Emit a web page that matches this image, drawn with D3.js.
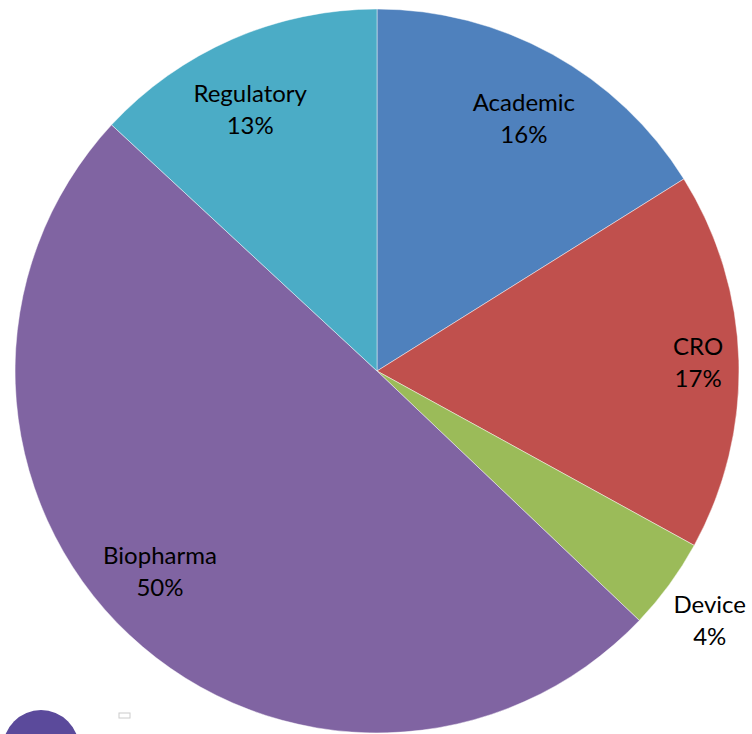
<!DOCTYPE html>
<html>
<head>
<meta charset="utf-8">
<title>Pie</title>
<script src="https://d3js.org/d3.v7.min.js"></script>
<style>
  body { margin: 0; background: #fff; }
  text { font-family: Lato, "Open Sans", sans-serif; fill: #000; }
</style>
</head>
<body>
<div id="chart"></div>
<script>
// data, clockwise from 12 o'clock
const categories = ["Academic", "CRO", "Device", "Biopharma", "Regulatory"];
const shares = [16.1, 16.9, 4.1, 49.8, 13.1];
const colors = ["#4f81bd", "#c0504d", "#9bbb59", "#8064a2", "#4bacc6"];

const W = 752, H = 734;
const cx = 377, cy = 371, R = 362;

// label placement like Excel's best-fit: radius fraction + small angle nudge (deg)
const labelPos = [0.786, 0.887, 1.163, 0.832, 0.783];
const labelNudge = [2.1, 1.7, 1.6, 2.9, -3.0];

const svg = d3.select("#chart").append("svg")
    .attr("width", W).attr("height", H);

const data = categories.map((c, i) => ({ name: c, value: shares[i], i: i }));

const pie = d3.pie().value(d => d.value).sort(null);
const arc = d3.arc().innerRadius(0).outerRadius(R);

const g = svg.append("g").attr("transform", `translate(${cx},${cy})`);

const arcs = pie(data);

g.selectAll("path")
    .data(arcs)
  .enter().append("path")
    .attr("d", arc)
    .attr("fill", d => colors[d.data.i])
    .attr("stroke", "#fff")
    .attr("stroke-opacity", 0.45)
    .attr("stroke-width", 1);

const lbl = g.selectAll("g.lbl")
    .data(arcs)
  .enter().append("g")
    .attr("class", "lbl")
    .attr("transform", d => {
        const a = (d.startAngle + d.endAngle) / 2 + labelNudge[d.data.i] * Math.PI / 180;
        const r = R * labelPos[d.data.i];
        return `translate(${Math.sin(a) * r},${-Math.cos(a) * r})`;
    });

lbl.append("text")
    .attr("text-anchor", "middle")
    .attr("y", -16)
    .attr("font-size", 24)
    .text(d => d.data.name);

lbl.append("text")
    .attr("text-anchor", "middle")
    .attr("y", 16)
    .attr("font-size", 24)
    .text(d => Math.round(d.data.value) + "%");

// bits of another graphic peeking in at the bottom-left
svg.append("circle")
    .attr("cx", 41).attr("cy", 748).attr("r", 38)
    .attr("fill", "#5b4a9b");
svg.append("rect")
    .attr("x", 119).attr("y", 713).attr("width", 11).attr("height", 5)
    .attr("fill", "none").attr("stroke", "#ccc");
</script>
</body>
</html>
